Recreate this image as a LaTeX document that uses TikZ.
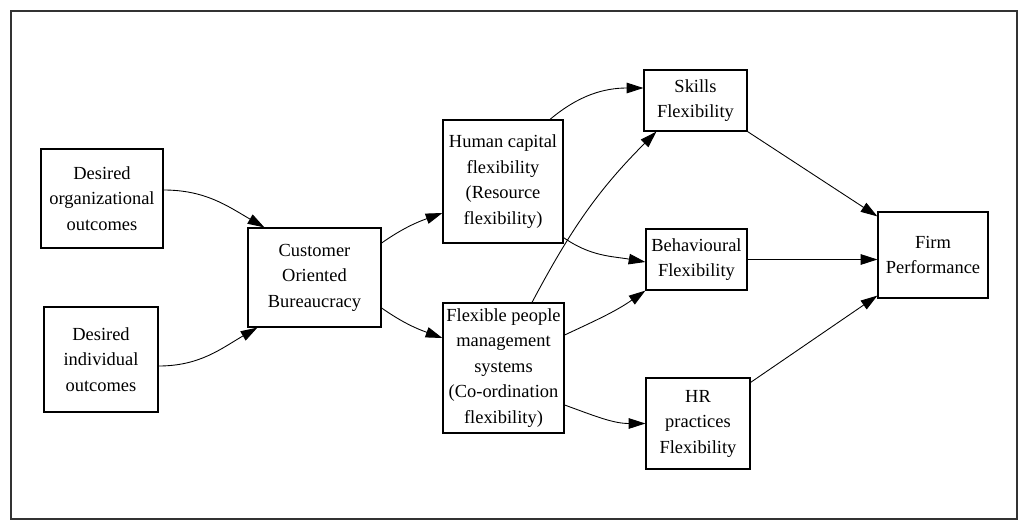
\documentclass[tikz,border=0pt]{standalone}
\usepackage{fontspec}
\setmainfont{Liberation Serif}
\usetikzlibrary{arrows.meta}

\begin{document}
\begin{tikzpicture}[x=0.02cm, y=-0.02cm, >={Triangle[length=9.5pt,width=6pt]},
  main/.style = {draw, line width=0.7pt, align=center, inner sep=1pt, font=\fontsize{10.5}{14.5}\selectfont},
  link/.style = {->, line width=0.5pt}]
\useasboundingbox (0,0) rectangle (1026,527);
\draw[line width=1.2pt, black!80] (11,11) rectangle (1017,519);

\node[main, minimum width=2.44cm, minimum height=1.98cm] (1) at (102,198.5) {Desired\\ organizational\\ outcomes};
\node[main, minimum width=2.28cm, minimum height=2.1cm] (2) at (101,359.5) {Desired\\ individual\\ outcomes};
\node[main, minimum width=2.66cm, minimum height=1.98cm] (3) at (314.5,277.5) {Customer\\ Oriented\\ Bureaucracy};
\node[main, minimum width=2.4cm, minimum height=2.46cm] (4) at (503,181.5) {Human capital\\ flexibility\\ (Resource\\ flexibility)};
\node[main, minimum width=2.42cm, minimum height=2.6cm] (5) at (503.5,368) {Flexible people\\ management\\ systems\\ (Co-ordination\\ flexibility)};
\node[main, minimum width=2.06cm, minimum height=1.22cm] (6) at (695.5,100.5) {Skills\\ Flexibility};
\node[main, minimum width=2.02cm, minimum height=1.22cm] (7) at (696.5,259.5) {Behavioural\\ Flexibility};
\node[main, minimum width=2.08cm, minimum height=1.82cm] (8) at (698,423.5) {HR\\ practices\\ Flexibility};
\node[main, minimum width=2.2cm, minimum height=1.72cm] (9) at (933,255) {Firm\\ Performance};

\draw[link] ([yshift=0.17cm]1.east) to[out=0,in=150] ([xshift=0.34cm]3.north west);
\draw[link] ([yshift=-0.13cm]2.east) to[out=0,in=-150] ([xshift=0.2cm]3.south west);
\draw[link] ([yshift=0.69cm]3.east) to[out=35,in=200] ([yshift=-0.63cm]4.west);
\draw[link] ([yshift=-0.61cm]3.east) to[out=-35,in=160] ([yshift=0.6cm]5.west);
\draw[link] ([xshift=0.94cm]4.north) to[out=40,in=180] ([yshift=0.25cm]6.west);
\draw[link] ([xshift=0.57cm]5.north) to[out=62,in=225] ([xshift=0.26cm]6.south west);
\draw[link] ([yshift=0.12cm]4.south east) to[out=-35,in=170] ([yshift=-0.05cm]7.west);
\draw[link] ([yshift=0.66cm]5.east) to[out=25,in=215] (7.south west);
\draw[link] ([yshift=-0.74cm]5.east) to[out=-20,in=180] (8.west);
\draw[link] (6.south east) -- ([yshift=-0.1cm]9.north west);
\draw[link] (7.east) -- (7.east -| 9.west);
\draw[link] ([yshift=-0.1cm]8.north east) -- ([yshift=0.06cm]9.south west);
\end{tikzpicture}
\end{document}
